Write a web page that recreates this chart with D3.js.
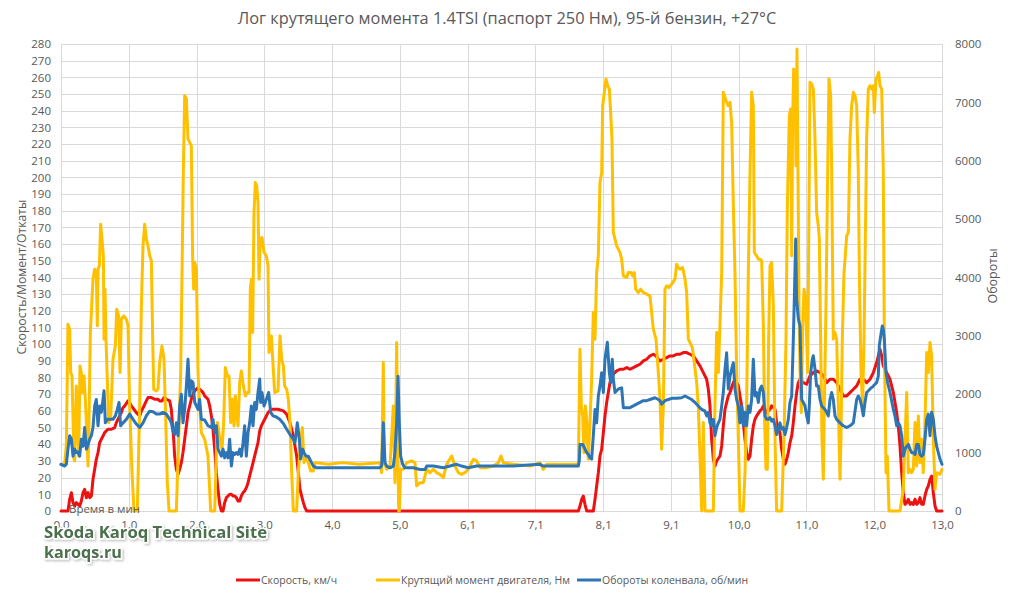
<!DOCTYPE html>
<html><head><meta charset="utf-8">
<script src="https://cdn.jsdelivr.net/npm/d3@7"></script>
<style>
body{margin:0;background:#fff;}
svg text{font-family:"Open Sans","Noto Sans",sans-serif;}
</style>
</head><body>
<svg id="chart" width="1015" height="598"></svg>
<script>
// ---------- DATA ----------
const titleText = "Лог крутящего момента 1.4TSI (паспорт 250 Нм), 95-й бензин, +27°С";
const tickLabels = ["0,0","1,0","2,0","3,0","4,0","5,0","6,1","7,1","8,1","9,1","10,0","11,0","12,0","13,0"];
const seriesNames = ["Скорость, км/ч","Крутящий момент двигателя, Нм","Обороты коленвала, об/мин"];
const leftTicks = d3.range(0, 281, 10);
const rightTicks = d3.range(0, 8001, 1000);

// [time position on category axis, value]
const speed = [[0,0],[0.103,0],[0.128,7],[0.153,11],[0.177,5],[0.202,3],[0.226,5],[0.251,4],[0.276,3],[0.300,6],[0.325,11],[0.349,13],[0.374,8],[0.399,11],[0.423,8],[0.448,9],[0.472,19],[0.497,25],[0.521,31],[0.546,35],[0.571,41],[0.595,43],[0.620,45],[0.644,47],[0.669,48],[0.694,49],[0.743,49],[0.792,50],[0.817,53],[0.841,55],[0.866,57],[0.890,59],[0.915,62],[0.940,63],[0.989,66],[1.013,65],[1.038,63],[1.077,61],[1.112,59],[1.161,57],[1.186,60],[1.225,63],[1.259,66],[1.284,68],[1.333,68],[1.382,67],[1.431,67],[1.456,66],[1.490,66],[1.520,68],[1.555,67],[1.604,66],[1.628,61],[1.643,53],[1.663,43],[1.677,33],[1.702,25],[1.727,22],[1.751,25],[1.776,29],[1.800,35],[1.825,43],[1.850,51],[1.874,59],[1.899,63],[1.923,67],[1.948,70],[1.973,72],[1.997,73],[2.022,74],[2.046,73],[2.071,72],[2.096,71],[2.120,69],[2.169,67],[2.194,63],[2.219,57],[2.243,49],[2.268,37],[2.292,23],[2.317,13],[2.342,4],[2.366,0],[2.391,0],[2.415,5],[2.440,8],[2.465,9],[2.489,10],[2.514,10],[2.538,9],[2.563,9],[2.588,8],[2.612,6],[2.637,6],[2.661,9],[2.686,11],[2.710,12],[2.735,14],[2.760,17],[2.784,21],[2.809,25],[2.858,33],[2.907,41],[2.932,48],[2.956,51],[3.006,55],[3.055,59],[3.104,61],[3.202,61],[3.281,60],[3.330,58],[3.379,53],[3.428,45],[3.477,33],[3.502,23],[3.527,13],[3.551,9],[3.576,5],[3.600,2],[3.625,0],[7.634,0],[7.658,3],[7.683,7],[7.707,9],[7.732,4],[7.757,0],[7.855,0],[7.880,7],[7.904,15],[7.929,23],[7.953,33],[7.978,37],[8.003,47],[8.027,57],[8.052,65],[8.076,71],[8.101,77],[8.126,80],[8.150,82],[8.199,84],[8.248,85],[8.298,85],[8.347,86],[8.396,85],[8.445,86],[8.494,87],[8.544,88],[8.593,90],[8.642,91],[8.691,93],[8.740,94],[8.780,93],[8.814,91],[8.839,90],[8.888,91],[8.937,92],[8.986,93],[9.035,93],[9.085,94],[9.134,94],[9.183,95],[9.232,95],[9.281,94],[9.331,93],[9.380,90],[9.429,87],[9.478,83],[9.527,79],[9.552,73],[9.576,63],[9.601,43],[9.626,31],[9.650,27],[9.675,30],[9.724,33],[9.749,39],[9.773,51],[9.798,61],[9.822,65],[9.847,69],[9.872,71],[9.896,74],[9.921,77],[9.945,79],[9.970,77],[9.995,75],[10.019,69],[10.044,63],[10.068,53],[10.093,43],[10.117,35],[10.142,31],[10.167,33],[10.191,43],[10.216,51],[10.240,55],[10.265,57],[10.314,60],[10.339,61],[10.364,63],[10.413,59],[10.462,61],[10.486,63],[10.536,61],[10.560,53],[10.585,49],[10.609,47],[10.634,37],[10.659,31],[10.683,28],[10.708,31],[10.732,35],[10.757,41],[10.782,45],[10.806,53],[10.831,63],[10.855,71],[10.880,77],[10.905,79],[10.954,77],[11.003,76],[11.052,81],[11.101,83],[11.150,84],[11.200,83],[11.249,81],[11.298,77],[11.347,79],[11.396,79],[11.446,77],[11.495,73],[11.544,69],[11.593,69],[11.642,71],[11.692,73],[11.741,75],[11.790,79],[11.839,79],[11.888,77],[11.938,79],[11.987,83],[12.036,89],[12.085,97],[12.110,93],[12.134,87],[12.183,83],[12.233,79],[12.282,71],[12.331,59],[12.355,51],[12.380,39],[12.405,23],[12.429,11],[12.454,4],[12.479,5],[12.503,7],[12.528,4],[12.552,5],[12.577,4],[12.602,7],[12.626,4],[12.651,5],[12.675,8],[12.700,4],[12.724,4],[12.749,9],[12.774,13],[12.798,15],[12.823,19],[12.847,21],[12.872,11],[12.897,3],[12.921,0],[13.0,0]];

const torque = [[0,28],[0.054,28],[0.079,40],[0.103,112],[0.128,109],[0.143,83],[0.162,81],[0.192,31],[0.202,30],[0.226,75],[0.241,57],[0.261,33],[0.280,87],[0.300,83],[0.315,71],[0.340,81],[0.359,67],[0.379,49],[0.399,27],[0.413,53],[0.433,107],[0.448,119],[0.472,139],[0.497,145],[0.521,143],[0.536,111],[0.546,145],[0.566,147],[0.585,172],[0.605,163],[0.625,153],[0.635,103],[0.649,133],[0.664,103],[0.703,53],[0.733,56],[0.767,91],[0.802,99],[0.822,121],[0.851,117],[0.871,83],[0.890,115],[0.925,117],[0.964,115],[0.989,111],[1.013,63],[1.048,23],[1.077,0],[1.126,0],[1.161,63],[1.186,123],[1.210,159],[1.235,172],[1.259,163],[1.284,159],[1.309,153],[1.333,150],[1.353,103],[1.368,73],[1.407,72],[1.431,73],[1.456,89],[1.490,99],[1.520,91],[1.540,63],[1.569,17],[1.594,0],[1.702,0],[1.736,43],[1.766,83],[1.786,143],[1.805,203],[1.825,249],[1.850,247],[1.874,223],[1.899,221],[1.923,219],[1.943,151],[1.958,133],[1.973,149],[1.997,145],[2.022,83],[2.041,67],[2.071,47],[2.120,43],[2.169,33],[2.209,0],[2.268,0],[2.307,53],[2.346,43],[2.376,37],[2.400,53],[2.425,86],[2.455,81],[2.479,81],[2.504,53],[2.529,67],[2.553,51],[2.573,69],[2.612,51],[2.637,77],[2.661,84],[2.691,75],[2.720,69],[2.750,71],[2.774,71],[2.794,133],[2.809,139],[2.828,107],[2.848,179],[2.868,197],[2.887,195],[2.907,185],[2.922,139],[2.941,163],[2.966,164],[2.996,155],[3.030,153],[3.055,147],[3.069,95],[3.089,105],[3.104,105],[3.124,91],[3.153,71],[3.202,72],[3.232,105],[3.256,91],[3.281,87],[3.300,75],[3.330,73],[3.354,67],[3.379,53],[3.404,23],[3.428,0],[3.477,0],[3.502,23],[3.536,43],[3.561,50],[3.586,29],[3.615,33],[3.650,29],[3.684,24],[3.723,24],[3.748,29],[3.95,28],[4.15,29],[4.4,28],[4.707,29],[4.732,23],[4.756,89],[4.771,29],[4.806,25],[4.855,27],[4.904,63],[4.928,17],[4.953,101],[4.968,43],[4.983,0],[4.992,0],[5.012,25],[5.051,25],[5.101,29],[5.174,30],[5.224,29],[5.248,15],[5.297,17],[5.346,17],[5.396,25],[5.445,23],[5.494,25],[5.543,23],[5.592,22],[5.642,20],[5.691,28],[5.765,33],[5.814,27],[5.863,23],[5.912,22],[5.961,23],[6.010,25],[6.084,31],[6.133,30],[6.183,26],[6.281,26],[6.379,27],[6.453,29],[6.492,33],[6.527,29],[6.674,28],[6.920,27],[7.068,29],[7.117,25],[7.166,28],[7.412,28],[7.634,28],[7.658,97],[7.678,63],[7.698,57],[7.717,35],[7.737,63],[7.757,55],[7.781,31],[7.806,53],[7.830,79],[7.855,119],[7.880,103],[7.904,143],[7.929,153],[7.953,197],[7.978,203],[7.993,243],[8.017,251],[8.042,259],[8.066,255],[8.091,253],[8.111,239],[8.130,223],[8.150,167],[8.175,163],[8.199,159],[8.224,157],[8.248,155],[8.273,151],[8.298,141],[8.347,140],[8.371,143],[8.411,143],[8.435,141],[8.460,143],[8.480,133],[8.519,131],[8.553,133],[8.593,131],[8.642,130],[8.691,129],[8.716,119],[8.740,109],[8.780,103],[8.814,83],[8.839,67],[8.863,37],[8.888,63],[8.912,133],[8.937,135],[8.971,134],[9.011,136],[9.060,139],[9.085,148],[9.109,146],[9.134,145],[9.173,146],[9.208,139],[9.232,131],[9.257,103],[9.281,101],[9.316,98],[9.345,89],[9.380,77],[9.404,63],[9.429,33],[9.454,0],[9.478,53],[9.503,0],[9.626,0],[9.650,63],[9.675,107],[9.700,83],[9.749,143],[9.773,251],[9.798,248],[9.822,245],[9.847,243],[9.872,245],[9.896,233],[9.921,183],[9.945,143],[9.970,83],[9.995,43],[10.019,0],[10.068,0],[10.093,23],[10.117,63],[10.142,143],[10.167,203],[10.191,251],[10.216,243],[10.231,155],[10.265,153],[10.290,151],[10.314,151],[10.339,150],[10.364,111],[10.383,53],[10.403,25],[10.423,25],[10.442,103],[10.462,147],[10.486,149],[10.511,123],[10.536,43],[10.560,0],[10.634,0],[10.668,43],[10.698,103],[10.718,183],[10.747,237],[10.767,241],[10.782,153],[10.796,233],[10.811,265],[10.831,263],[10.846,207],[10.860,277],[10.875,203],[10.890,123],[10.905,83],[10.924,59],[10.944,111],[10.964,133],[10.983,129],[11.003,103],[11.018,83],[11.037,183],[11.052,257],[11.077,256],[11.101,253],[11.126,223],[11.150,179],[11.175,171],[11.190,163],[11.209,103],[11.229,43],[11.249,19],[11.264,63],[11.288,123],[11.313,203],[11.332,259],[11.357,249],[11.372,203],[11.396,103],[11.421,107],[11.446,103],[11.470,63],[11.495,19],[11.509,43],[11.529,103],[11.554,143],[11.573,153],[11.593,165],[11.618,167],[11.642,223],[11.667,243],[11.692,251],[11.716,249],[11.741,243],[11.765,203],[11.780,143],[11.805,83],[11.829,63],[11.849,103],[11.869,163],[11.888,223],[11.913,253],[11.938,255],[11.962,253],[11.987,255],[12.001,239],[12.026,259],[12.051,261],[12.065,263],[12.085,255],[12.110,253],[12.134,203],[12.149,103],[12.174,23],[12.193,33],[12.218,0],[12.380,0],[12.429,13],[12.454,43],[12.479,71],[12.503,23],[12.528,25],[12.552,23],[12.577,25],[12.602,53],[12.626,27],[12.651,57],[12.675,29],[12.700,43],[12.724,23],[12.749,53],[12.774,95],[12.798,83],[12.823,101],[12.847,93],[12.872,43],[12.897,13],[12.921,23],[12.970,22],[13.0,25]];

const rpm = [[0,800],[0.054,770],[0.079,800],[0.103,1060],[0.128,1290],[0.153,1230],[0.177,940],[0.202,1060],[0.226,1000],[0.251,1010],[0.276,940],[0.300,1230],[0.325,1110],[0.349,1430],[0.374,1060],[0.399,1140],[0.423,1230],[0.448,1290],[0.472,1430],[0.497,1800],[0.521,1910],[0.546,1460],[0.571,1800],[0.595,1690],[0.620,1910],[0.635,2060],[0.654,1510],[0.684,1570],[0.718,1570],[0.767,1570],[0.802,1630],[0.831,1740],[0.856,1860],[0.880,1460],[0.915,1510],[0.964,1570],[1.013,1660],[1.063,1570],[1.112,1490],[1.161,1430],[1.210,1510],[1.259,1630],[1.309,1710],[1.358,1700],[1.407,1660],[1.456,1660],[1.505,1690],[1.555,1660],[1.604,1570],[1.628,1510],[1.653,1370],[1.677,1310],[1.702,1510],[1.727,1290],[1.751,1800],[1.776,2000],[1.800,1510],[1.825,1740],[1.850,2140],[1.874,2600],[1.899,1970],[1.923,2230],[1.948,2200],[1.973,1860],[1.997,1800],[2.022,1740],[2.046,1910],[2.071,1570],[2.120,1560],[2.169,1460],[2.219,1430],[2.243,1570],[2.268,1340],[2.292,1460],[2.317,1060],[2.342,1000],[2.366,940],[2.391,1060],[2.415,910],[2.440,1000],[2.465,910],[2.489,1230],[2.514,770],[2.538,1000],[2.563,970],[2.588,1000],[2.612,970],[2.637,1060],[2.661,940],[2.686,1170],[2.710,1460],[2.735,940],[2.760,1340],[2.784,1510],[2.809,1800],[2.833,1460],[2.858,1860],[2.882,1740],[2.907,2030],[2.932,2260],[2.946,1860],[2.966,2030],[2.996,1800],[3.030,1910],[3.064,2030],[3.094,1690],[3.129,1630],[3.178,1610],[3.227,1570],[3.281,1500],[3.330,1400],[3.379,1310],[3.428,1230],[3.453,1170],[3.487,1510],[3.517,1230],[3.536,890],[3.566,1060],[3.586,1000],[3.615,940],[3.650,940],[3.684,860],[3.723,770],[3.773,740],[4.0,740],[4.3,740],[4.707,740],[4.732,770],[4.756,1510],[4.781,830],[4.806,770],[4.855,740],[4.904,770],[4.928,1000],[4.953,1510],[4.973,2310],[4.992,1510],[5.012,940],[5.042,800],[5.076,740],[5.199,740],[5.297,710],[5.371,710],[5.396,770],[5.494,770],[5.642,740],[5.740,770],[5.838,800],[5.912,770],[6.010,740],[6.133,770],[6.379,770],[6.674,770],[7.068,800],[7.117,770],[7.412,770],[7.634,770],[7.648,860],[7.658,1140],[7.698,1140],[7.732,1060],[7.757,1000],[7.781,970],[7.806,910],[7.830,890],[7.855,1290],[7.880,1740],[7.904,1510],[7.929,1970],[7.953,2140],[7.978,2370],[8.003,2030],[8.027,2600],[8.062,2890],[8.091,2370],[8.111,2200],[8.135,2600],[8.150,2260],[8.175,2030],[8.224,2090],[8.273,2110],[8.298,1770],[8.347,1770],[8.396,1770],[8.445,1800],[8.494,1830],[8.544,1860],[8.593,1890],[8.642,1890],[8.691,1910],[8.765,1940],[8.814,1910],[8.839,1890],[8.863,1830],[8.912,1890],[8.962,1910],[9.011,1930],[9.085,1930],[9.158,1940],[9.208,1970],[9.257,1940],[9.306,1910],[9.355,1860],[9.404,1800],[9.454,1740],[9.503,1710],[9.527,1630],[9.552,1690],[9.576,1510],[9.601,1460],[9.626,1570],[9.650,1290],[9.675,1430],[9.700,1510],[9.724,1570],[9.749,1800],[9.773,2030],[9.798,2430],[9.822,2710],[9.847,2090],[9.872,2310],[9.896,2430],[9.921,2540],[9.945,2090],[9.970,1910],[9.995,1800],[10.019,1510],[10.044,1800],[10.068,1460],[10.093,1690],[10.117,1460],[10.142,1800],[10.167,1690],[10.191,1910],[10.216,2600],[10.240,1970],[10.265,2030],[10.290,1860],[10.314,2090],[10.339,2140],[10.364,2030],[10.388,1630],[10.413,1570],[10.437,1570],[10.462,1600],[10.486,1540],[10.511,1570],[10.536,1460],[10.560,1310],[10.585,1400],[10.609,1510],[10.634,1400],[10.659,1430],[10.683,1310],[10.708,1430],[10.732,1570],[10.757,1860],[10.782,1970],[10.806,2940],[10.821,3630],[10.841,4660],[10.855,3630],[10.880,3290],[10.905,3170],[10.929,1910],[10.954,1860],[10.978,1800],[11.003,1630],[11.027,1510],[11.042,1800],[11.062,2370],[11.087,2600],[11.101,2660],[11.126,2430],[11.150,2140],[11.175,2140],[11.200,1910],[11.224,1800],[11.249,1770],[11.273,1740],[11.298,1690],[11.323,1630],[11.347,1910],[11.372,2030],[11.396,1910],[11.421,1630],[11.446,1570],[11.495,1510],[11.544,1460],[11.593,1430],[11.642,1460],[11.692,1510],[11.741,1910],[11.765,1970],[11.790,1910],[11.814,1800],[11.839,1630],[11.864,1860],[11.888,2030],[11.938,2090],[11.987,2140],[12.036,2200],[12.060,2310],[12.075,2830],[12.095,3000],[12.119,3170],[12.134,3110],[12.149,2940],[12.174,2370],[12.198,2200],[12.233,2030],[12.282,1740],[12.306,1630],[12.331,1460],[12.355,1510],[12.380,1460],[12.405,1290],[12.429,940],[12.454,1060],[12.479,1110],[12.503,1140],[12.528,1060],[12.552,1000],[12.577,1000],[12.602,970],[12.626,1140],[12.651,1140],[12.675,970],[12.700,940],[12.724,970],[12.749,1230],[12.774,1570],[12.798,1660],[12.823,1290],[12.847,1690],[12.872,1570],[12.897,1290],[12.921,1110],[12.946,1000],[12.970,890],[13.0,800]];

// ---------- LAYOUT ----------
const W = 1015, H = 598;
const plot = {left: 61, right: 942, top: 44, bottom: 511};
const colors = {speed: "#ee1111", torque: "#ffc000", rpm: "#2e75b6"};
const textColor = "#595959";
const gridColor = "#d9d9d9";

const svg = d3.select("#chart");
svg.append("rect").attr("width", W).attr("height", H).attr("fill", "#fff");

const x = d3.scaleLinear().domain([0, tickLabels.length - 1]).range([plot.left, plot.right]);
const yL = d3.scaleLinear().domain([0, 280]).range([plot.bottom, plot.top]);
const yR = d3.scaleLinear().domain([0, 8000]).range([plot.bottom, plot.top]);

function fit(sel, w) {
  const cur = sel.node().getComputedTextLength();
  const fs = parseFloat(sel.attr("font-size"));
  sel.attr("font-size", (fs * w / cur).toFixed(2));
  return sel;
}

// grid
const grid = svg.append("g");
grid.selectAll("line.h").data(leftTicks).join("line")
  .attr("x1", plot.left).attr("x2", plot.right)
  .attr("y1", d => Math.round(yL(d)) + 0.5).attr("y2", d => Math.round(yL(d)) + 0.5)
  .attr("stroke", gridColor).attr("stroke-width", 1);
grid.selectAll("line.v").data(d3.range(tickLabels.length)).join("line")
  .attr("x1", d => Math.round(x(d)) + 0.5).attr("x2", d => Math.round(x(d)) + 0.5)
  .attr("y1", plot.top).attr("y2", plot.bottom)
  .attr("stroke", gridColor).attr("stroke-width", 1);

// axes
const axL = svg.append("g").attr("transform", `translate(${plot.left},0)`)
  .call(d3.axisLeft(yL).tickValues(leftTicks).tickFormat(d3.format("d")).tickSize(0).tickPadding(10));
const axR = svg.append("g").attr("transform", `translate(${plot.right},0)`)
  .call(d3.axisRight(yR).tickValues(rightTicks).tickFormat(d3.format("d")).tickSize(0).tickPadding(13));
const axB = svg.append("g").attr("transform", `translate(0,${plot.bottom})`)
  .call(d3.axisBottom(x).tickValues(d3.range(tickLabels.length)).tickFormat(i => tickLabels[i]).tickSize(0).tickPadding(10));
[axL, axR, axB].forEach(a => {
  a.select(".domain").remove();
  a.selectAll("text").attr("fill", textColor).attr("font-size", 11.5)
    .style("font-family", '"Open Sans","Noto Sans",sans-serif');
});

// lines
const lineL = d3.line().x(d => x(d[0])).y(d => yL(d[1]));
const lineR = d3.line().x(d => x(d[0])).y(d => yR(d[1]));
const lines = svg.append("g").attr("fill", "none").attr("stroke-width", 3)
  .attr("stroke-linejoin", "round").attr("stroke-linecap", "round");
lines.append("path").datum(speed).attr("d", lineL).attr("stroke", colors.speed);
lines.append("path").datum(torque).attr("d", lineL).attr("stroke", colors.torque);
lines.append("path").datum(rpm).attr("d", lineR).attr("stroke", colors.rpm);

// title
const t = svg.append("text").attr("x", 507).attr("y", 24).attr("text-anchor", "middle")
  .attr("fill", textColor).attr("font-size", 16).text(titleText);
fit(t, 539);

// axis titles
const lt = svg.append("text").attr("transform", "translate(26,277) rotate(-90)")
  .attr("text-anchor", "middle").attr("fill", textColor).attr("font-size", 12)
  .text("Скорость/Момент/Откаты");
fit(lt, 155);
const rt = svg.append("text").attr("transform", "translate(997,276) rotate(-90)")
  .attr("text-anchor", "middle").attr("fill", textColor).attr("font-size", 12)
  .text("Обороты");
fit(rt, 55);

// x-axis title (inside plot)
const xt = svg.append("text").attr("x", 69).attr("y", 513)
  .attr("fill", textColor).attr("font-size", 12).text("Время в мин");
fit(xt, 71);

// legend
const legendItems = [
  {name: seriesNames[0], color: colors.speed, x: 236},
  {name: seriesNames[1], color: colors.torque, x: 376},
  {name: seriesNames[2], color: colors.rpm, x: 577}
];
const lg = svg.append("g");
const lgFont = (() => {
  const tmp = lg.append("text").attr("font-size", 12).text(seriesNames[1]);
  const w = tmp.node().getComputedTextLength();
  tmp.remove();
  return 12 * 169 / w;
})();
legendItems.forEach(it => {
  lg.append("line").attr("x1", it.x).attr("x2", it.x + 24).attr("y1", 580).attr("y2", 580)
    .attr("stroke", it.color).attr("stroke-width", 3);
  lg.append("text").attr("x", it.x + 25).attr("y", 584).attr("font-size", lgFont)
    .attr("fill", textColor).text(it.name);
});

// watermark
const defs = svg.append("defs");
const f = defs.append("filter").attr("id", "sh").attr("x", "-5%").attr("y", "-20%").attr("width", "110%").attr("height", "150%");
f.append("feDropShadow").attr("dx", 1.5).attr("dy", 1.5).attr("stdDeviation", 1.2).attr("flood-color", "#000").attr("flood-opacity", 0.25);
const wm = svg.append("g").attr("filter", "url(#sh)");
const w1 = wm.append("text").attr("x", 44).attr("y", 538).attr("font-size", 19).attr("font-weight", "bold")
  .attr("fill", "#4b6f4c").attr("stroke", "#fff").attr("stroke-width", 3).attr("paint-order", "stroke")
  .text("Skoda Karoq Technical Site");
fit(w1, 223);
const w2 = wm.append("text").attr("x", 44).attr("y", 558).attr("font-size", 19).attr("font-weight", "bold")
  .attr("fill", "#4b6f4c").attr("stroke", "#fff").attr("stroke-width", 3).attr("paint-order", "stroke")
  .text("karoqs.ru");
fit(w2, 78);
</script>
</body></html>
